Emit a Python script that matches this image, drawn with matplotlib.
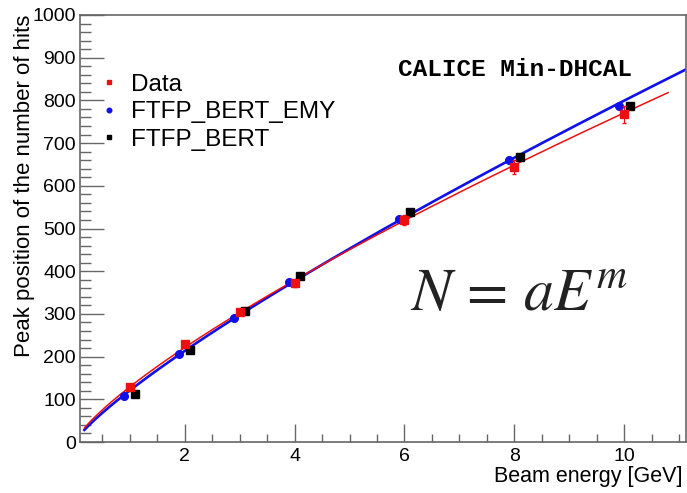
import numpy as np
import matplotlib.pyplot as plt
from matplotlib.ticker import MultipleLocator

plt.rcParams['font.family'] = ['Liberation Sans', 'DejaVu Sans']
plt.rcParams['mathtext.fontset'] = 'stix'

# beam energies and peak positions
energy = np.array([1, 2, 3, 4, 6, 8, 10])
data_hits = [128, 229, 304, 372, 520, 644, 768]
data_err = [5, 6, 7, 8, 12, 16, 20]
emy_hits = [108, 206, 291, 375, 523, 660, 788]
bert_hits = [113, 215, 307, 389, 538, 667, 788]
shift = 0.1  # MC points drawn slightly left/right of the data

# power law fits N = a*E^m  (a, m, E range)
fit_data = (129.4, 0.775, 0.17, 10.8)
fit_emy = (121.0, 0.82, 0.17, 11.12)

fig = plt.figure(figsize=(6.87, 4.93), dpi=100)
ax = fig.add_axes([0.1164, 0.1034, 0.8816, 0.8662])

def fit_curve(a, m, e0, e1):
    e = np.linspace(e0, e1, 300)
    return e, a * e**m

ax.plot(*fit_curve(*fit_emy), color='#1010e8', lw=1.9, zorder=2)
ax.plot(*fit_curve(*fit_data), color='#ee1010', lw=1.1, zorder=3)

ax.plot(energy - shift, emy_hits, 'o', color='#1010e8', ms=5.5, zorder=4,
        label='FTFP_BERT_EMY')
ax.plot(energy + shift, bert_hits, 's', color='black', ms=5.5, zorder=4,
        label='FTFP_BERT')
ax.errorbar(energy, data_hits, yerr=data_err, fmt='none', ecolor='#ee1010',
            elinewidth=0.8, capsize=1.5, zorder=5)
ax.plot(energy, data_hits, 's', color='#ee1010', ms=6, zorder=5,
        label='Data')

ax.set_xlim(0.09, 11.12)
ax.set_ylim(0, 1000)
ax.xaxis.set_major_locator(MultipleLocator(2))
ax.xaxis.set_minor_locator(MultipleLocator(0.5))
ax.yaxis.set_major_locator(MultipleLocator(100))
ax.yaxis.set_minor_locator(MultipleLocator(20))
ax.tick_params(which='both', direction='in', color='#666666', width=1.0,
               labelsize=14, top=False, right=False)
ax.tick_params(axis='x', which='major', length=13, pad=4)
ax.tick_params(axis='x', which='minor', length=6)
ax.tick_params(axis='y', which='major', length=17, pad=3)
ax.tick_params(axis='y', which='minor', length=8)
for sp in ax.spines.values():
    sp.set_color('#666666')
    sp.set_linewidth(1.2)

ax.set_ylabel('Peak position of the number of hits', fontsize=16,
              loc='top', labelpad=-2)
fig.text(683 / 687, 0.012, 'Beam energy [GeV]', fontsize=15.5,
         ha='right', va='bottom')

handles, labels = ax.get_legend_handles_labels()
order = [2, 0, 1]
leg = ax.legend([handles[i] for i in order], [labels[i] for i in order],
                loc='upper left', bbox_to_anchor=(0.02, 0.885), fontsize=17.5,
                frameon=False, markerscale=0.6, handlelength=0.6,
                handletextpad=0.6, labelspacing=0.22, borderaxespad=0)

ax.text(0.525, 0.873, 'CALICE Min-DHCAL', transform=ax.transAxes,
        fontsize=17.6, family='Liberation Mono', weight='bold', va='center')
ax.text(0.545, 0.345, r'$N\,=\,aE^m$', transform=ax.transAxes,
        fontsize=43, color='#222222', va='center')

fig.savefig('out.png', dpi=100)
